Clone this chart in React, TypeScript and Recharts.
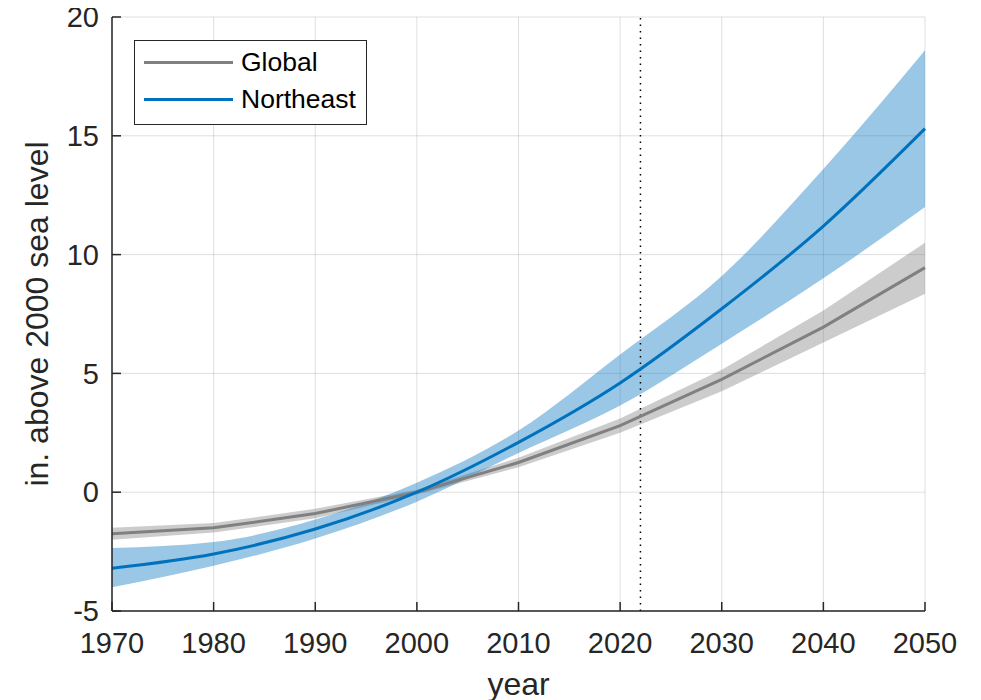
import React from 'react';
import { ComposedChart, Area, Line, XAxis, YAxis, CartesianGrid, ReferenceLine, Legend } from 'recharts';

const years = [1970, 1980, 1990, 2000, 2010, 2020, 2030, 2040, 2050];
const globalMid = [-1.75, -1.5, -0.9, 0, 1.25, 2.8, 4.75, 6.95, 9.45];
const globalLow = [-2.0, -1.7, -1.1, -0.1, 1.05, 2.5, 4.25, 6.3, 8.35];
const globalHigh = [-1.5, -1.3, -0.7, 0.1, 1.45, 3.1, 5.15, 7.65, 10.5];
const neMid = [-3.2, -2.6, -1.55, 0, 2.1, 4.6, 7.72, 11.2, 15.3];
const neLow = [-4.0, -3.1, -1.95, -0.4, 1.65, 3.65, 6.25, 9.0, 12.0];
const neHigh = [-2.35, -2.1, -1.15, 0.4, 2.6, 5.8, 9.1, 13.6, 18.6];
const xTicks = [1970, 1980, 1990, 2000, 2010, 2020, 2030, 2040, 2050];
const yTicks = [-5, 0, 5, 10, 15, 20];
const presentYear = 2022;
const seriesNames = ['Global', 'Northeast'];
const seriesColors = ['#808080', '#0072BD'];

const data = years.map((year, i) => ({
  year,
  globalMid: globalMid[i],
  globalBand: [globalLow[i], globalHigh[i]],
  neMid: neMid[i],
  neBand: [neLow[i], neHigh[i]],
}));

const FONT = '"Liberation Sans", Arial, Helvetica, sans-serif';
const AXIS = '#262626';

const YLabel = (props: any) => {
  const vb = props.viewBox || { x: 0, y: 9, width: 104, height: 594 };
  const cx = 40;
  const cy = vb.y + vb.height / 2;
  return (
    <text x={cx} y={cy} transform={`rotate(-90, ${cx}, ${cy})`} textAnchor="middle" fill={AXIS} fontSize={32} fontFamily={FONT}>
      in. above 2000 sea level
    </text>
  );
};

const XLabel = (props: any) => {
  const vb = props.viewBox || { x: 104, y: 603, width: 813, height: 89 };
  const cx = vb.x + vb.width / 2;
  return (
    <text x={cx} y={687} textAnchor="middle" fill={AXIS} fontSize={32} fontFamily={FONT}>
      year
    </text>
  );
};

const LegendBox = () => (
  <div
    style={{
      width: 231,
      height: 80,
      border: `1px solid ${AXIS}`,
      background: '#fff',
      fontFamily: FONT,
      fontSize: 26.5,
      color: '#000',
      boxSizing: 'content-box',
      paddingTop: 3,
    }}
  >
    {seriesNames.map((name, i) => (
      <div key={name} style={{ display: 'flex', alignItems: 'center', height: 37 }}>
        <div style={{ width: 89, height: 3, marginLeft: 9, background: seriesColors[i] }} />
        <span style={{ marginLeft: 8, lineHeight: '37px' }}>{name}</span>
      </div>
    ))}
  </div>
);

export default function App() {
  return (
    <ComposedChart width={973} height={692} data={data} margin={{ top: 9, right: 56, bottom: 0, left: 0 }}>
      <Area dataKey="globalBand" type="linear" stroke="none" fill="#808080" fillOpacity={0.4} isAnimationActive={false} />
      <Area dataKey="neBand" type="monotone" stroke="none" fill="#0072BD" fillOpacity={0.4} isAnimationActive={false} />
      <CartesianGrid stroke={AXIS} strokeOpacity={0.15} strokeWidth={1} />
      <ReferenceLine x={presentYear} stroke="#000" strokeWidth={1.5} strokeDasharray="1.5 5" />
      <Line dataKey="globalMid" type="linear" stroke="#808080" strokeWidth={3} dot={false} isAnimationActive={false} />
      <Line dataKey="neMid" type="monotone" stroke="#0072BD" strokeWidth={3} dot={false} isAnimationActive={false} />
      <XAxis
        dataKey="year"
        type="number"
        domain={[1970, 2050]}
        ticks={xTicks}
        interval={0}
        height={89}
        tickSize={-9}
        tickMargin={30}
        stroke={AXIS}
        strokeWidth={1.5}
        tick={{ fill: AXIS, fontSize: 29, fontFamily: FONT }}
        label={<XLabel />}
      />
      <YAxis
        type="number"
        domain={[-5, 20]}
        ticks={yTicks}
        interval={0}
        width={104}
        tickSize={-9}
        tickMargin={22}
        stroke={AXIS}
        strokeWidth={1.5}
        tick={{ fill: AXIS, fontSize: 29, fontFamily: FONT }}
        label={<YLabel />}
      />
      <Legend
        layout="vertical"
        verticalAlign="middle"
        align="center"
        content={<LegendBox />}
        wrapperStyle={{ left: 126, top: 32, width: 233, height: 84 }}
      />
    </ComposedChart>
  );
}
